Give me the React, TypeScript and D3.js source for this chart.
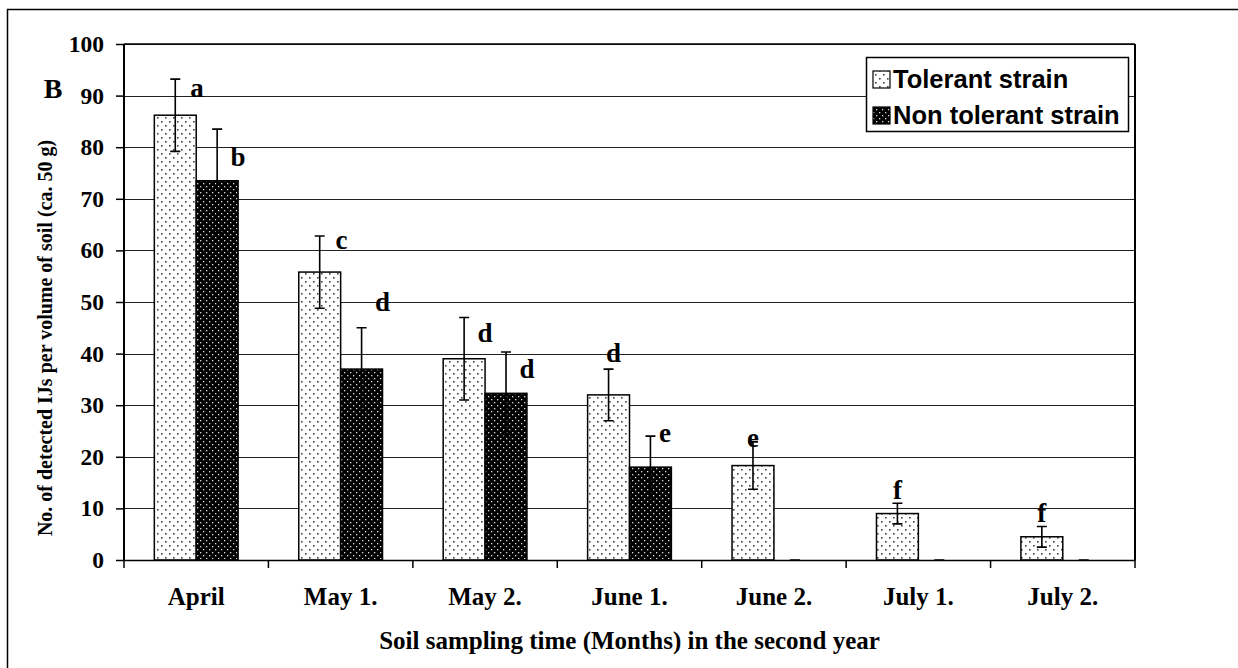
import React, { useEffect, useRef } from 'react';
import * as d3 from 'd3';

const months = ['April', 'May 1.', 'May 2.', 'June 1.', 'June 2.', 'July 1.', 'July 2.'];
const seriesNames = ['Tolerant strain', 'Non tolerant strain'];
const tolerant = [86.2, 55.8, 39, 32, 18.3, 9, 4.5];
const tolerantErr = [7, 7, 8, 5, 4.6, 2, 2];
const nonTolerant = [73.5, 37, 32.3, 18, 0, 0, 0];
const nonTolerantErr = [10, 8, 8, 6, 0, 0, 0];
const yTicks = [0, 10, 20, 30, 40, 50, 60, 70, 80, 90, 100];
// letter: [series, month index, text, value at label center, shift in bar widths]
const letters: [number, number, string, number, number][] = [
  [0, 0, 'a', 91.5, 0.52],
  [1, 0, 'b', 78, 0.5],
  [0, 1, 'c', 62, 0.52],
  [1, 1, 'd', 50, 0.5],
  [0, 2, 'd', 44, 0.5],
  [1, 2, 'd', 37, 0.5],
  [0, 3, 'd', 40, 0.12],
  [1, 3, 'e', 24.5, 0.35],
  [0, 4, 'e', 23.5, 0],
  [0, 5, 'f', 13.5, 0],
  [0, 6, 'f', 9, 0],
];

export default function App() {
  const ref = useRef<SVGSVGElement>(null);
  const W = 1238, H = 668;
  const margin = { top: 44, right: 103, bottom: 108, left: 124 };

  useEffect(() => {
    const svg = d3.select(ref.current);
    svg.selectAll('*').remove();
    const width = W - margin.left - margin.right;
    const height = H - margin.top - margin.bottom;

    const defs = svg.append('defs');
    const p1 = defs.append('pattern').attr('id', 'tol').attr('patternUnits', 'userSpaceOnUse')
      .attr('width', 8).attr('height', 8);
    p1.append('rect').attr('width', 8).attr('height', 8).attr('fill', '#fff');
    p1.append('rect').attr('x', 1).attr('y', 1).attr('width', 1.6).attr('height', 1.6).attr('fill', '#444');
    p1.append('rect').attr('x', 5).attr('y', 5).attr('width', 1.6).attr('height', 1.6).attr('fill', '#444');
    const p2 = defs.append('pattern').attr('id', 'ntol').attr('patternUnits', 'userSpaceOnUse')
      .attr('width', 6).attr('height', 6);
    p2.append('rect').attr('width', 6).attr('height', 6).attr('fill', '#000');
    p2.append('rect').attr('x', 1).attr('y', 1).attr('width', 1.3).attr('height', 1.3).attr('fill', '#ddd');
    p2.append('rect').attr('x', 4).attr('y', 4).attr('width', 1.3).attr('height', 1.3).attr('fill', '#ddd');

    // outer frame
    svg.append('rect').attr('x', 7.5).attr('y', 9.5).attr('width', 1260).attr('height', 700)
      .attr('fill', 'none').attr('stroke', '#000').attr('stroke-width', 1.5);

    const g = svg.append('g').attr('transform', `translate(${margin.left},${margin.top})`);

    const x0 = d3.scaleBand().domain(months).range([0, width]).padding(0);
    const x1 = d3.scaleBand().domain(seriesNames).range([x0.bandwidth() * 0.21, x0.bandwidth() * 0.79]);
    const y = d3.scaleLinear().domain([0, 100]).range([height, 0]);

    // grid
    g.selectAll('.grid').data(yTicks.slice(1)).join('line')
      .attr('x1', 0).attr('x2', width)
      .attr('y1', d => Math.round(y(d)) + 0.5).attr('y2', d => Math.round(y(d)) + 0.5)
      .attr('stroke', '#222').attr('stroke-width', 1);

    // plot border top/right
    g.append('line').attr('x1', 0).attr('x2', width).attr('y1', 0).attr('y2', 0)
      .attr('stroke', '#000').attr('stroke-width', 1.5);
    g.append('line').attr('x1', width).attr('x2', width).attr('y1', 0).attr('y2', height)
      .attr('stroke', '#000').attr('stroke-width', 2);

    const series = [
      { name: seriesNames[0], vals: tolerant, err: tolerantErr, fill: 'url(#tol)' },
      { name: seriesNames[1], vals: nonTolerant, err: nonTolerantErr, fill: 'url(#ntol)' },
    ];

    series.forEach(s => {
      const bx = (i: number) => x0(months[i])! + x1(s.name)!;
      g.selectAll(null).data(s.vals).join('rect')
        .attr('x', (d, i) => bx(i)).attr('y', d => y(d))
        .attr('width', x1.bandwidth()).attr('height', d => y(0) - y(d))
        .attr('fill', s.fill).attr('stroke', '#000').attr('stroke-width', 1.5);
      const cx = (i: number) => bx(i) + x1.bandwidth() / 2;
      g.selectAll(null).data(s.vals).join('path')
        .attr('d', (d, i) => {
          const c = cx(i), t = y(d + s.err[i]), b = y(d - s.err[i]);
          return `M${c},${t}V${b}M${c - 5},${t}H${c + 5}M${c - 5},${b}H${c + 5}`;
        })
        .attr('stroke', '#000').attr('stroke-width', 1.6).attr('fill', 'none');
    });

    // letters
    g.selectAll('.lt').data(letters).join('text')
      .attr('x', d => x0(months[d[1]])! + x1(seriesNames[d[0]])! + x1.bandwidth() * (0.5 + d[4]))
      .attr('y', d => y(d[3]))
      .attr('dy', '0.32em')
      .attr('text-anchor', 'middle')
      .attr('font-family', 'Liberation Serif').attr('font-weight', 'bold').attr('font-size', 27)
      .text(d => d[2]);

    // y axis
    const ya = g.append('g').call(d3.axisLeft(y).tickValues(yTicks).tickSize(8).tickPadding(12));
    ya.select('.domain').attr('stroke-width', 2).attr('d', `M0,0V${height}`);
    ya.selectAll('.tick line').attr('stroke-width', 1.5);
    ya.selectAll('.tick text').attr('font-family', 'Liberation Serif').attr('font-weight', 'bold')
      .attr('font-size', 23.5).attr('fill', '#000');

    // x axis
    const xa = g.append('g').attr('transform', `translate(0,${height})`)
      .call(d3.axisBottom(x0).tickSize(0).tickPadding(27));
    xa.select('.domain').attr('stroke-width', 1.5);
    xa.selectAll('.tick text').attr('font-family', 'Liberation Serif').attr('font-weight', 'bold')
      .attr('font-size', 25).attr('fill', '#000');
    xa.selectAll('.bnd').data(d3.range(months.length + 1)).join('line')
      .attr('x1', i => i * x0.bandwidth()).attr('x2', i => i * x0.bandwidth())
      .attr('y1', 0).attr('y2', 8).attr('stroke', '#000').attr('stroke-width', 1.5);

    // titles
    svg.append('text').attr('x', margin.left + width / 2).attr('y', 649)
      .attr('text-anchor', 'middle')
      .attr('font-family', 'Liberation Serif').attr('font-weight', 'bold').attr('font-size', 25)
      .text('Soil sampling time (Months) in the second year');
    svg.append('text').attr('transform', `translate(52,338) rotate(-90)`)
      .attr('text-anchor', 'middle')
      .attr('font-family', 'Liberation Serif').attr('font-weight', 'bold').attr('font-size', 20)
      .text('No. of detected IJs per volume of soil (ca. 50 g)');
    svg.append('text').attr('x', 53).attr('y', 98).attr('text-anchor', 'middle')
      .attr('font-family', 'Liberation Serif').attr('font-weight', 'bold').attr('font-size', 28)
      .text('B');

    // legend
    const lg = svg.append('g').attr('transform', 'translate(866,57)');
    lg.append('rect').attr('x', 0.5).attr('y', 0.5).attr('width', 262).attr('height', 74)
      .attr('fill', '#fff').attr('stroke', '#000').attr('stroke-width', 1.5);
    series.forEach((s, i) => {
      lg.append('rect').attr('x', 7).attr('y', 14 + i * 36).attr('width', 17).attr('height', 17)
        .attr('fill', s.fill).attr('stroke', '#000').attr('stroke-width', 1.2);
      lg.append('text').attr('x', 27).attr('y', 22 + i * 36).attr('dy', '0.35em')
        .attr('font-family', 'Liberation Sans').attr('font-weight', 'bold').attr('font-size', 25.5)
        .text(s.name);
    });
  }, []);

  return (
    <svg ref={ref} width={W} height={H} style={{ position: 'absolute', left: 0, top: 0, background: '#fff' }} />
  );
}
